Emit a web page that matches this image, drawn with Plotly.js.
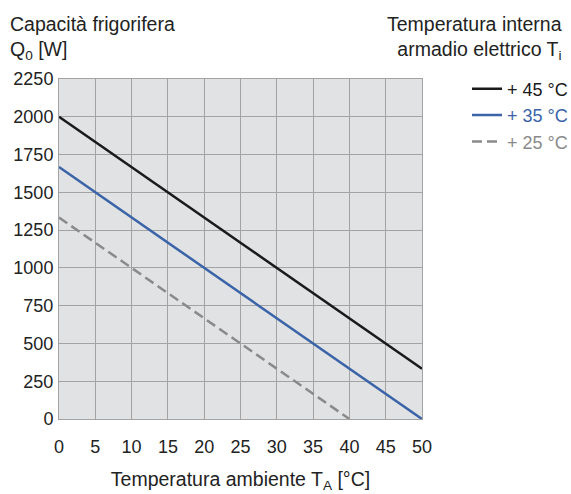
<!DOCTYPE html>
<html><head><meta charset="utf-8">
<script src="https://cdn.plot.ly/plotly-3.0.1.min.js"></script>
<style>html,body{margin:0;padding:0;background:#fff}</style>
</head><body><div id="chart" style="width:571px;height:494px"></div>
<script>
const tempAmbiente = [0, 50];
const tempAmbiente25 = [0, 40];
const q45 = [2000, 333];
const q35 = [1667, 0];
const q25 = [1333, 0];
const seriesNames = ['+ 45 °C', '+ 35 °C', '+ 25 °C'];
const seriesColors = ['#1a1a1a', '#3a63a8', '#8a8a8a'];
const xTicks = [0, 5, 10, 15, 20, 25, 30, 35, 40, 45, 50];
const yTicks = [0, 250, 500, 750, 1000, 1250, 1500, 1750, 2000, 2250];

const font = 'Liberation Sans, Arial, sans-serif';
const traces = [
  {x: tempAmbiente, y: q45, mode: 'lines', line: {color: seriesColors[0], width: 2.5},
   name: `<span style="color:${seriesColors[0]}">${seriesNames[0]}</span>`},
  {x: tempAmbiente, y: q35, mode: 'lines', line: {color: seriesColors[1], width: 2.5},
   name: `<span style="color:${seriesColors[1]}">${seriesNames[1]}</span>`},
  {x: tempAmbiente25, y: q25, mode: 'lines', line: {color: seriesColors[2], width: 2.5, dash: '10px,5px'},
   name: `<span style="color:${seriesColors[2]}">${seriesNames[2]}</span>`}
];
const axisCommon = {
  showgrid: true, gridcolor: '#a3a3a3', gridwidth: 1,
  showline: true, linecolor: '#a3a3a3', linewidth: 1, mirror: true,
  zeroline: false, ticks: '', tickfont: {family: font, size: 18, color: '#222'}
};
const layout = {
  width: 571, height: 494,
  margin: {l: 59, r: 149, t: 79, b: 75, autoexpand: false},
  paper_bgcolor: '#fff', plot_bgcolor: '#e1e2e4',
  font: {family: font, color: '#222'},
  showlegend: true,
  legend: {x: 1.124, xanchor: 'left', y: 1.025, yanchor: 'top', xref: 'paper', yref: 'paper',
    font: {family: font, size: 18, color: '#222'}, bgcolor: 'rgba(0,0,0,0)', tracegroupgap: 0,
    itemwidth: 30},
  xaxis: Object.assign({}, axisCommon, {range: [0, 50], tickvals: xTicks, ticktext: xTicks.map(String),
    ticklabelstandoff: 11,
    title: {text: 'Temperatura ambiente T<sub>A</sub> [°C]', font: {family: font, size: 19.5, color: '#222'}, standoff: 16}}),
  yaxis: Object.assign({}, axisCommon, {range: [0, 2250], tickvals: yTicks, ticktext: yTicks.map(String),
    ticklabelstandoff: 1}),
  annotations: [
    {xref: 'paper', yref: 'paper', x: -0.141, y: 1.2, xanchor: 'left', yanchor: 'top', align: 'left',
     showarrow: false, text: 'Capacità frigorifera<br>Q<sub>0</sub> [W]', font: {family: font, size: 19.5, color: '#222'}},
    {xref: 'paper', yref: 'paper', x: 1.39, y: 1.2, xanchor: 'right', yanchor: 'top', align: 'right',
     showarrow: false, text: 'Temperatura interna<br>armadio elettrico T<sub>i</sub>', font: {family: font, size: 19.5, color: '#222'}}
  ]
};
Plotly.newPlot('chart', traces, layout, {displayModeBar: false, staticPlot: true});
</script></body></html>
